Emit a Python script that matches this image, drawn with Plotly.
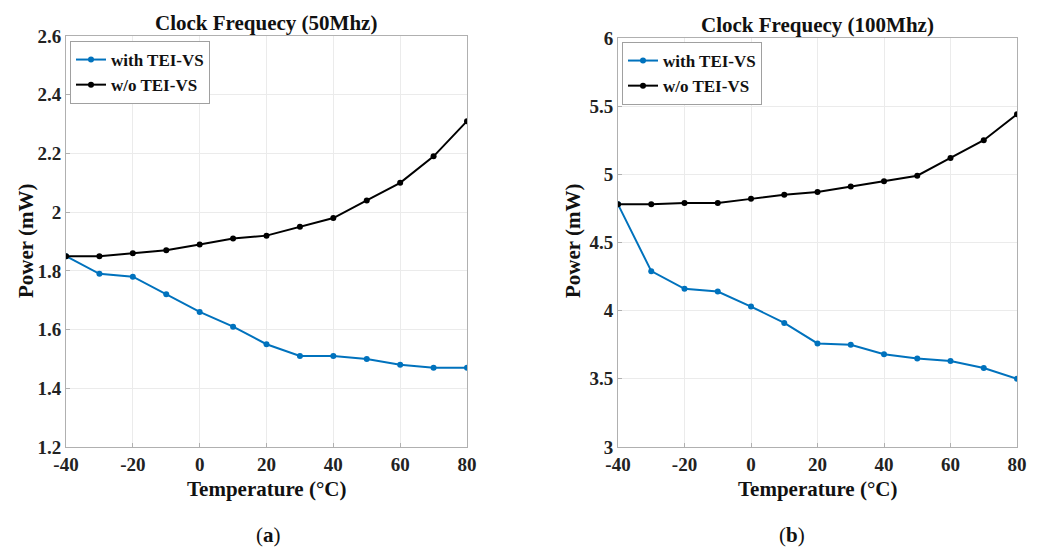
import plotly.graph_objects as go

temps = [-40, -30, -20, -10, 0, 10, 20, 30, 40, 50, 60, 70, 80]
with_50 = [1.85, 1.79, 1.78, 1.72, 1.66, 1.61, 1.55, 1.51, 1.51, 1.50, 1.48, 1.47, 1.47]
wo_50 = [1.85, 1.85, 1.86, 1.87, 1.89, 1.91, 1.92, 1.95, 1.98, 2.04, 2.10, 2.19, 2.31]
with_100 = [4.78, 4.29, 4.16, 4.14, 4.03, 3.91, 3.76, 3.75, 3.68, 3.65, 3.63, 3.58, 3.50]
wo_100 = [4.78, 4.78, 4.79, 4.79, 4.82, 4.85, 4.87, 4.91, 4.95, 4.99, 5.12, 5.25, 5.44]

x_ticks = [-40, -20, 0, 20, 40, 60, 80]
x_labels = ["-40", "-20", "0", "20", "40", "60", "80"]
y_ticks_a = [1.2, 1.4, 1.6, 1.8, 2.0, 2.2, 2.4, 2.6]
y_labels_a = ["1.2", "1.4", "1.6", "1.8", "2", "2.2", "2.4", "2.6"]
y_ticks_b = [3, 3.5, 4, 4.5, 5, 5.5, 6]
y_labels_b = ["3", "3.5", "4", "4.5", "5", "5.5", "6"]

BLUE = "#0072BD"
BLACK = "#000000"
FONT = "Liberation Serif"
OFF = 8  # page body margin
W, H = 1038 - OFF, 547 - OFF

fig = go.Figure()

def add(x, y, name, color, xa, ya, legend):
    fig.add_trace(go.Scatter(
        x=x, y=y, name=name, mode="lines+markers",
        line=dict(color=color, width=2),
        marker=dict(color=color, size=6),
        xaxis=xa, yaxis=ya, legend=legend,
    ))

add(temps, with_50, "with TEI-VS", BLUE, "x", "y", "legend")
add(temps, wo_50, "w/o TEI-VS", BLACK, "x", "y", "legend")
add(temps, with_100, "with TEI-VS", BLUE, "x2", "y2", "legend2")
add(temps, wo_100, "w/o TEI-VS", BLACK, "x2", "y2", "legend2")

tickfont = dict(family=FONT, size=19, color="#222222", weight="bold")
axcommon = dict(
    showgrid=True, gridcolor="#ebebeb", gridwidth=1,
    showline=True, linecolor="#b0b0b0", linewidth=1, mirror=True,
    ticks="inside", ticklen=4, tickcolor="#b0b0b0",
    tickfont=tickfont, zeroline=False, automargin=False,
)

def px2x(p):
    return (p - OFF) / W

def py2y(p):
    return 1 - (p - OFF) / H

legfont = dict(family=FONT, size=17, color="#111111", weight="bold")

fig.update_layout(
    width=W, height=H,
    margin=dict(l=0, r=0, t=0, b=0, autoexpand=False),
    paper_bgcolor="white", plot_bgcolor="white",
    font=dict(family=FONT, color="#222222"),
    xaxis=dict(domain=[px2x(66), px2x(467)], range=[-40, 80], tickvals=x_ticks, ticktext=x_labels, anchor="y", **axcommon),
    yaxis=dict(domain=[py2y(447), py2y(36)], range=[1.2, 2.6], tickvals=y_ticks_a, ticktext=y_labels_a, anchor="x", **axcommon),
    xaxis2=dict(domain=[px2x(618), px2x(1017)], range=[-40, 80], tickvals=x_ticks, ticktext=x_labels, anchor="y2", **axcommon),
    yaxis2=dict(domain=[py2y(447), py2y(38)], range=[3, 6], tickvals=y_ticks_b, ticktext=y_labels_b, anchor="x2", **axcommon),
    legend=dict(x=px2x(70), y=py2y(41), xanchor="left", yanchor="top",
                bgcolor="white", bordercolor="#a0a0a0", borderwidth=1,
                font=legfont, itemwidth=30, tracegroupgap=0),
    legend2=dict(x=px2x(622), y=py2y(42), xanchor="left", yanchor="top",
                 bgcolor="white", bordercolor="#a0a0a0", borderwidth=1,
                 font=legfont, itemwidth=30, tracegroupgap=0),
)

def ann(text, x, y, size, angle=0, bold=True):
    fig.add_annotation(
        text=text, x=px2x(x), y=py2y(y), xref="paper", yref="paper",
        showarrow=False, textangle=angle, xanchor="center", yanchor="middle",
        font=dict(family=FONT, size=size, color="#111111", weight="bold" if bold else "normal"),
    )

ann("Clock Frequecy (50Mhz)", 266, 23, 21)
ann("Clock Frequecy (100Mhz)", 817, 25, 21)
ann("Temperature (°C)", 266, 489, 21)
ann("Temperature (°C)", 817, 489, 21)
ann("Power (mW)", 26, 241, 21, angle=-90)
ann("Power (mW)", 573, 241, 21, angle=-90)
ann("(<b>a</b>)", 268, 535, 21, bold=False)
ann("(<b>b</b>)", 792, 535, 21, bold=False)

fig.write_html("out.html")
